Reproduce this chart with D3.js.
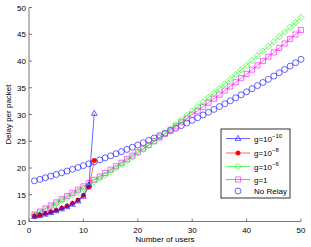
<!DOCTYPE html>
<html><head><meta charset="utf-8">
<script src="https://cdn.jsdelivr.net/npm/d3@7"></script>
<style>body{margin:0;background:#fff}svg{display:block;font-family:"Liberation Sans",Arial,sans-serif}</style>
</head><body><svg id="c" width="311" height="247"></svg>
<script>
const users = d3.range(1, 51);
const xTicks = [0, 10, 20, 30, 40, 50];
const yTicks = [10, 15, 20, 25, 30, 35, 40, 45, 50];
const g10 = [10.9, 11.1, 11.35, 11.65, 12.0, 12.35, 12.75, 13.2, 13.8, 14.7, 16.8, 30.2];
const g8 = [11.0, 11.2, 11.5, 11.8, 12.1, 12.5, 12.9, 13.4, 14.0, 14.9, 16.4, 21.4];
const g6 = [11.20, 11.72, 12.25, 12.79, 13.34, 13.90, 14.46, 15.03, 15.61, 16.20, 16.80, 17.41,
  18.03, 18.67, 19.33, 20.00, 20.68, 21.37, 22.07, 22.78, 23.50, 24.23, 24.97, 25.72, 26.48,
  27.30, 28.12, 28.95, 29.78, 30.62, 31.46, 32.31, 33.16, 34.01, 34.87, 35.73, 36.59, 37.46,
  38.33, 39.20, 40.08, 40.96, 41.84, 42.73, 43.62, 44.51, 45.41, 46.31, 47.21, 48.15];
const g1 = [11.30, 11.86, 12.43, 13.00, 13.58, 14.16, 14.75, 15.35, 15.95, 16.56, 17.17, 17.79,
  18.42, 19.05, 19.69, 20.33, 20.98, 21.64, 22.30, 22.97, 23.64, 24.32, 25.01, 25.70, 26.40,
  27.10, 27.81, 28.53, 29.25, 29.98, 30.71, 31.45, 32.20, 32.95, 33.71, 34.47, 35.24, 36.02,
  36.80, 37.59, 38.38, 39.18, 39.99, 40.80, 41.62, 42.44, 43.27, 44.11, 44.95, 45.80];
const noRelay = [17.60, 17.88, 18.18, 18.48, 18.79, 19.10, 19.43, 19.76, 20.10, 20.44, 20.79, 21.15,
  21.52, 21.90, 22.28, 22.67, 23.06, 23.47, 23.88, 24.30, 24.73, 25.16, 25.60, 26.05, 26.51,
  26.97, 27.44, 27.92, 28.41, 28.90, 29.40, 29.91, 30.42, 30.95, 31.48, 32.02, 32.56, 33.11,
  33.67, 34.24, 34.82, 35.40, 35.99, 36.58, 37.19, 37.80, 38.42, 39.05, 39.68, 40.32];

const series = [
  {name: "g=10", sup: "\u221210", vals: g10, color: "#0000ff", marker: "tri", line: true},
  {name: "g=10", sup: "\u22128", vals: g8, color: "#ff0000", marker: "star", line: true},
  {name: "g=10", sup: "\u22126", vals: g6, color: "#00ff00", marker: "dia", line: true},
  {name: "g=1", sup: "", vals: g1, color: "#ff00ff", marker: "sq", line: true},
  {name: "No Relay", sup: "", vals: noRelay, color: "#0000ff", marker: "circ", line: false}
];

const svg = d3.select("#c");
const x = d3.scaleLinear().domain([0, 50]).range([29, 301]);
const y = d3.scaleLinear().domain([10, 50]).range([221.5, 7.5]);

function markerPath(type, s) {
  const p = d3.path();
  if (type === "tri") { p.moveTo(0, -s); p.lineTo(s * 0.9, s * 0.6); p.lineTo(-s * 0.9, s * 0.6); p.closePath(); }
  else if (type === "dia") { p.moveTo(0, -s); p.lineTo(s, 0); p.lineTo(0, s); p.lineTo(-s, 0); p.closePath(); }
  else if (type === "sq") { p.rect(-s * 0.8, -s * 0.8, s * 1.6, s * 1.6); }
  else if (type === "circ") { p.moveTo(s, 0); p.arc(0, 0, s, 0, 2 * Math.PI); }
  else if (type === "star") {
    p.moveTo(-s, 0); p.lineTo(s, 0); p.moveTo(0, -s); p.lineTo(0, s);
    p.moveTo(-s * 0.7, -s * 0.7); p.lineTo(s * 0.7, s * 0.7); p.moveTo(-s * 0.7, s * 0.7); p.lineTo(s * 0.7, -s * 0.7);
  }
  return p.toString();
}
function drawMarker(g, type, cx, cy, color) {
  const s = type === "circ" ? 3 : (type === "star" ? 2.6 : 3.2);
  g.append("path").attr("d", markerPath(type, s))
    .attr("transform", `translate(${cx},${cy})`)
    .attr("fill", "none").attr("stroke", color).attr("stroke-width", type === "star" ? 1.3 : 0.6);
}

// axes (box off, ticks inside)
const axG = svg.append("g").attr("font-size", 8).attr("fill", "#000");
axG.append("line").attr("x1", 29).attr("x2", 29).attr("y1", y(50)).attr("y2", y(10)).attr("stroke", "#555").attr("stroke-width", 0.8);
axG.append("line").attr("x1", 29).attr("x2", 301).attr("y1", y(10)).attr("y2", y(10)).attr("stroke", "#555").attr("stroke-width", 0.8);
xTicks.forEach(t => {
  axG.append("line").attr("x1", x(t)).attr("x2", x(t)).attr("y1", y(10)).attr("y2", y(10) - 3).attr("stroke", "#555").attr("stroke-width", 0.8);
  axG.append("text").attr("x", x(t)).attr("y", 232.5).attr("text-anchor", "middle").text(t);
});
yTicks.forEach(t => {
  axG.append("line").attr("x1", 29).attr("x2", 32).attr("y1", y(t)).attr("y2", y(t)).attr("stroke", "#555").attr("stroke-width", 0.8);
  axG.append("text").attr("x", 26).attr("y", y(t) + 3).attr("text-anchor", "end").text(t);
});
svg.append("text").attr("x", 165).attr("y", 241.5).attr("text-anchor", "middle").attr("font-size", 8).text("Number of users");
svg.append("text").attr("transform", `translate(10.5,${(y(10) + y(50)) / 2}) rotate(-90)`).attr("text-anchor", "middle").attr("font-size", 8).text("Delay per packet");

// series, drawn in reverse so blue g=1e-10 is on top
const line = d3.line().x((d, i) => x(users[i])).y(d => y(d));
[...series].reverse().forEach(s => {
  const g = svg.append("g");
  if (s.line) g.append("path").attr("d", line(s.vals)).attr("fill", "none").attr("stroke", s.color).attr("stroke-width", 0.6);
  s.vals.forEach((v, i) => drawMarker(g, s.marker, x(users[i]), y(v), s.color));
});

// legend
const lg = svg.append("g");
lg.append("rect").attr("x", 221).attr("y", 129).attr("width", 69).attr("height", 69).attr("fill", "#fff").attr("stroke", "#000").attr("stroke-width", 0.8);
const ly = [138.5, 153, 166.5, 179.5, 191];
series.forEach((s, i) => {
  if (s.line) lg.append("line").attr("x1", 226).attr("x2", 250).attr("y1", ly[i]).attr("y2", ly[i]).attr("stroke", s.color).attr("stroke-width", 0.6);
  drawMarker(lg, s.marker, 238, ly[i], s.color);
  const t = lg.append("text").attr("x", 254).attr("y", ly[i] + 3).attr("font-size", 8);
  t.append("tspan").text(s.name);
  if (s.sup) t.append("tspan").attr("dy", -4).attr("font-size", 6).text(s.sup);
});
</script></body></html>
